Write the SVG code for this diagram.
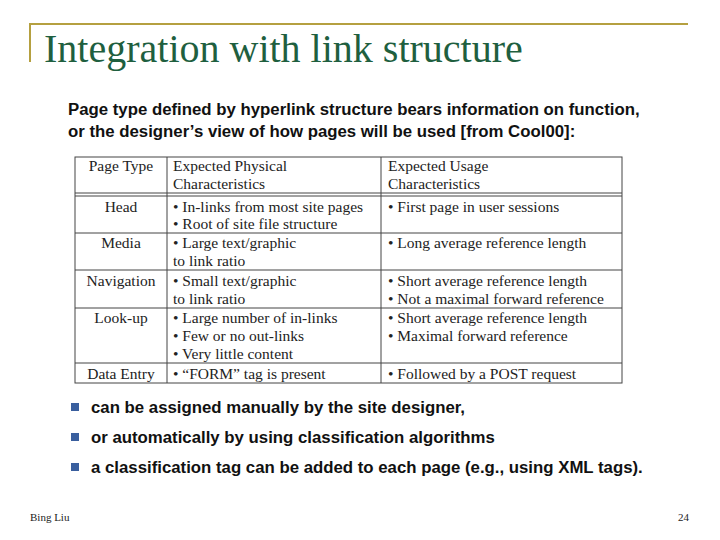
<svg xmlns="http://www.w3.org/2000/svg" width="720" height="540" viewBox="0 0 720 540">
<style>
.t{font-family:"Liberation Serif",serif;font-size:15.5px;fill:#222}
.b{font-family:"Liberation Sans",Arial,sans-serif;font-weight:bold;font-size:16.8px;fill:#111}
.g{stroke:#444;stroke-width:1;fill:none}
.sq{fill:#3a5f9e}
</style>
<rect width="720" height="540" fill="#fff"/>
<path d="M30 62V24H688" stroke="#b5a040" stroke-width="2" fill="none"/>
<text x="44" y="62" font-family="Liberation Serif,serif" font-size="40" fill="#1f5f3f">Integration with link structure</text>
<text class="b" x="68" y="115">Page type defined by hyperlink structure bears information on function,</text>
<text class="b" x="68" y="137">or the designer’s view of how pages will be used [from Cool00]:</text>
<g id="table">
<rect class="g" x="75" y="157" width="547" height="226"/>
<path class="g" d="M167 157V383M381 157V383M75 193H622M75 196H622M75 233H622M75 270H622M75 308H622M75 363H622"/>
<g class="t">
<text x="121" y="171" text-anchor="middle">Page Type</text>
<text x="173" y="171">Expected Physical</text><text x="173" y="189">Characteristics</text>
<text x="388" y="171">Expected Usage</text><text x="388" y="189">Characteristics</text>
<text x="121" y="212" text-anchor="middle">Head</text>
<text x="173" y="212">• In-links from most site pages</text><text x="173" y="229">• Root of site file structure</text>
<text x="388" y="212">• First page in user sessions</text>
<text x="121" y="248" text-anchor="middle">Media</text>
<text x="173" y="248">• Large text/graphic</text><text x="173" y="266">to link ratio</text>
<text x="388" y="248">• Long average reference length</text>
<text x="121" y="286" text-anchor="middle">Navigation</text>
<text x="173" y="286">• Small text/graphic</text><text x="173" y="304">to link ratio</text>
<text x="388" y="286">• Short average reference length</text><text x="388" y="304">• Not a maximal forward reference</text>
<text x="121" y="323" text-anchor="middle">Look-up</text>
<text x="173" y="323">• Large number of in-links</text><text x="173" y="341">• Few or no out-links</text><text x="173" y="359">• Very little content</text>
<text x="388" y="323">• Short average reference length</text><text x="388" y="341">• Maximal forward reference</text>
<text x="121" y="379" text-anchor="middle">Data Entry</text>
<text x="173" y="379">• “FORM” tag is present</text>
<text x="388" y="379">• Followed by a POST request</text>
</g>
</g>
<rect class="sq" x="71" y="403" width="8" height="8"/>
<rect class="sq" x="71" y="433" width="8" height="8"/>
<rect class="sq" x="71" y="463" width="8" height="8"/>
<text class="b" x="91" y="413">can be assigned manually by the site designer,</text>
<text class="b" x="91" y="443">or automatically by using classification algorithms</text>
<text class="b" x="91" y="473">a classification tag can be added to each page (e.g., using XML tags).</text>
<text x="30" y="521" font-family="Liberation Serif,serif" font-size="11" fill="#222">Bing Liu</text>
<text x="678" y="521" font-family="Liberation Serif,serif" font-size="11" fill="#222">24</text>
</svg>
